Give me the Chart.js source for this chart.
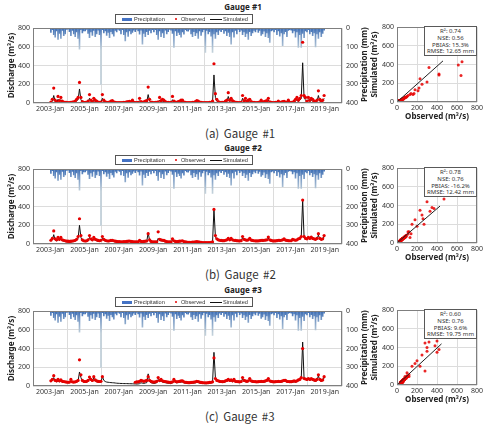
<!DOCTYPE html>
<html>
<head>
<meta charset="utf-8">
<script src="https://cdn.jsdelivr.net/npm/chart.js@4.4.1/dist/chart.umd.min.js"></script>
<style>
body{margin:0;background:#fff;width:487px;height:428px;position:relative;overflow:hidden;font-family:"Noto Sans",sans-serif;color:#333}
.abs{position:absolute}
.gTitle{left:193px;width:100px;text-align:center;font-size:8px;font-weight:bold;color:#222;line-height:10px}
.legend{left:115px;width:136px;height:8px;border:1px solid #555;font-family:"Liberation Sans",sans-serif;font-size:5.6px;line-height:8px;color:#333}
.legend span{position:absolute;white-space:nowrap}
.caption{left:205px;font-family:"Noto Sans CJK KR","Noto Sans",sans-serif;font-size:11.5px;color:#333;word-spacing:2px;line-height:16px}
.stats{left:424px;width:51px;height:27px;border:1px solid #595959;background:#fff;font-size:6px;line-height:6.8px;text-align:center;color:#333;padding-top:1px}
canvas{position:absolute}
</style>
</head>
<body>
<script>
// ================= DATA =================
const yearLabels = ["2003-Jan","2005-Jan","2007-Jan","2009-Jan","2011-Jan","2013-Jan","2015-Jan","2017-Jan","2019-Jan"];

// monthly precipitation (mm), 2003-01 .. 2018-12
const precip = [
  22,8,35,48,15,60,28,55,12,40,30,6,
  5,18,40,12,30,45,20,55,112,8,25,14,
  15,6,28,50,20,38,12,45,30,10,34,300,
  8,25,14,38,22,50,18,30,42,12,20,6,
  12,30,8,35,68,20,44,15,30,22,10,18,
  6,15,32,10,85,28,45,18,35,12,25,8,
  20,8,35,60,14,45,25,50,10,30,18,6,
  10,28,103,15,40,22,35,48,20,32,8,14,
  16,6,30,45,18,40,25,55,15,38,20,8,
  130,12,30,18,42,130,30,55,20,35,10,18,
  8,28,15,40,22,45,85,20,48,12,30,6,
  18,10,34,20,45,28,60,18,40,25,12,20,
  6,22,12,38,30,16,45,25,50,76,15,10,
  20,8,35,15,42,25,94,30,18,45,12,8,
  10,25,14,48,20,103,35,103,28,50,15,20,
  8,30,18,40,25,100,30,55,20,45,28,10
];

// Gauge #1 discharge (m3/s)
const obs1 = [
  10,40,160,30,15,70,25,60,20,10,8,6,
  5,5,8,10,12,20,40,60,220,60,15,8,
  6,8,20,90,30,15,50,30,20,10,8,10,
  90,30,12,8,6,10,20,25,12,8,5,5,
  4,4,5,6,8,12,15,18,10,30,8,5,
  5,6,50,15,8,12,20,25,170,40,10,6,
  5,6,8,12,60,25,40,30,15,8,6,5,
  8,70,20,10,8,15,20,30,30,10,6,5,
  4,4,5,6,8,15,25,20,10,6,5,4,
  4,4,5,6,8,20,420,100,40,15,8,6,
  6,8,20,30,110,30,50,25,15,8,6,5,
  5,6,80,25,50,20,30,40,15,8,6,5,
  5,6,10,30,10,15,20,25,50,12,6,5,
  5,6,8,20,8,10,15,18,10,8,30,6,
  6,8,20,40,60,30,50,80,650,80,60,20,
  60,30,50,40,20,15,30,130,40,20,30,80
];
const sim1 = [
  3,20,80,15,6,40,12,35,10,4,3,2,
  2,2,3,5,6,10,25,35,150,35,8,4,
  3,4,10,50,15,8,30,15,10,5,4,5,
  50,15,6,4,3,5,10,12,6,4,3,2,
  2,2,2,3,4,6,8,10,5,15,4,2,
  2,3,25,8,4,6,10,12,90,20,5,3,
  2,3,4,6,30,12,20,15,8,4,3,2,
  4,35,10,5,4,8,10,15,15,5,3,2,
  2,2,2,3,4,8,12,10,5,3,2,2,
  2,2,2,3,4,10,300,60,20,8,4,3,
  3,4,10,15,70,15,30,12,8,4,3,2,
  2,3,50,12,30,10,15,20,8,4,3,2,
  2,3,5,15,5,8,10,12,30,6,3,2,
  2,3,4,10,4,5,8,10,5,4,20,3,
  3,4,10,20,35,15,30,50,430,50,35,10,
  35,15,30,20,10,8,15,80,20,10,15,50
];

// Gauge #2
const obs2 = [
  40,60,140,55,45,70,50,70,45,40,35,30,
  30,28,30,32,35,40,50,80,270,90,45,35,
  32,35,45,90,55,45,70,50,45,38,35,40,
  80,50,40,35,32,35,38,40,35,30,28,26,
  25,24,24,25,26,28,30,32,28,26,24,22,
  22,22,40,28,25,28,30,32,110,45,28,24,
  22,22,24,130,50,45,40,38,30,26,24,22,
  22,55,35,28,25,28,30,32,35,26,22,20,
  18,18,18,20,20,22,25,24,20,18,16,15,
  14,14,15,16,18,22,370,90,55,45,40,38,
  36,36,40,45,60,45,60,45,40,38,36,34,
  34,36,80,50,45,40,45,60,42,38,35,34,
  33,34,36,40,38,40,42,45,75,45,38,34,
  33,34,36,40,38,40,45,55,42,38,36,35,
  35,50,45,40,45,55,60,80,470,80,60,55,
  70,60,75,60,55,50,60,110,60,50,55,90
];
const sim2 = [
  30,45,100,40,32,50,38,55,35,30,26,24,
  22,20,22,24,26,30,40,60,200,70,35,28,
  25,26,35,70,42,35,55,40,35,30,28,32,
  60,40,32,28,25,26,30,30,26,24,22,20,
  19,18,18,19,20,22,24,26,22,20,18,17,
  17,17,30,22,20,22,24,26,120,40,22,18,
  17,17,18,60,35,35,32,28,24,20,18,17,
  17,45,28,22,20,22,24,26,28,20,17,15,
  14,14,14,15,16,18,20,19,16,14,13,12,
  11,11,12,13,15,18,370,80,45,38,34,32,
  30,30,34,38,50,38,50,38,34,32,30,28,
  28,30,70,42,38,34,38,50,36,32,30,28,
  27,28,30,34,32,34,36,38,65,38,32,28,
  27,28,30,34,32,34,38,48,36,32,30,29,
  29,42,38,34,38,48,52,70,470,70,52,48,
  60,52,65,52,48,44,52,95,52,44,48,80
];

// Gauge #3 (observed missing 2006-02 .. 2007-11)
const obs3 = [
  55,70,110,60,55,70,55,65,50,48,45,42,
  40,42,70,45,42,45,50,60,280,120,60,50,
  48,50,60,95,70,60,100,65,55,50,48,50,
  100,null,null,null,null,null,null,null,null,null,null,null,
  null,null,null,null,null,null,null,null,null,null,null,40,
  45,45,50,60,55,50,55,60,100,60,50,45,
  42,45,50,90,60,70,55,50,48,45,42,40,
  40,45,70,50,45,48,50,55,55,45,40,38,
  36,36,38,40,42,45,50,48,42,38,36,35,
  34,34,36,38,40,45,300,80,60,55,50,48,
  46,48,55,60,70,60,65,55,70,50,48,46,
  45,48,90,60,55,50,55,80,55,50,48,46,
  45,46,48,50,48,50,55,60,80,55,50,46,
  45,46,48,50,48,50,55,60,60,50,48,46,
  46,50,55,50,55,65,70,90,400,80,75,70,
  80,70,80,70,65,60,70,120,70,60,65,100
];
const sim3 = [
  45,55,90,50,45,55,45,55,42,40,38,36,
  34,35,55,38,36,38,42,50,150,90,50,42,
  40,42,50,80,60,50,85,55,45,42,40,42,
  100,60,48,42,40,38,36,35,34,32,30,29,
  28,27,27,26,26,26,25,25,24,24,23,22,
  22,22,25,35,30,28,32,35,130,50,35,30,
  28,30,35,70,45,55,42,38,35,32,30,28,
  28,32,55,38,34,36,38,42,42,34,30,28,
  27,27,28,30,32,34,38,36,32,29,28,27,
  26,26,28,30,32,36,360,90,55,48,42,40,
  38,40,45,50,60,50,55,45,60,42,40,38,
  37,40,80,50,45,42,45,70,45,42,40,38,
  37,38,40,42,40,42,45,50,70,45,42,38,
  37,38,40,42,40,42,45,50,50,42,40,38,
  38,42,45,42,45,55,60,80,470,75,70,60,
  70,60,70,60,55,50,60,110,60,50,55,90
];

// extra scatter points [obs, sim]
const extra1 = [[613,397],[640,284],[420,290],[320,370],[300,213],[230,250],[250,190],[180,130],[140,90],[210,120]];
const extra2 = [[300,440],[350,380],[250,300],[230,350],[180,250],[150,200],[200,180],[120,120],[260,260],[330,340]];
const extra3 = [[320,460],[380,420],[400,350],[300,400],[280,450],[250,320],[200,260],[180,230],[150,200],[230,200],[420,380]];

// fitted line end points
const fit1 = [[0,0],[460,440]];
const fit2 = [[0,0],[430,395]];
const fit3 = [[0,0],[445,440]];

const stats1 = ["R²: 0.74","NSE: 0.56","PBIAS: 15.3%","RMSE: 12.65 mm"];
const stats2 = ["R²: 0.78","NSE: 0.76","PBIAS: -16.2%","RMSE: 12.42 mm"];
const stats3 = ["R²: 0.60","NSE: 0.76","PBIAS: 9.6%","RMSE: 19.75 mm"];

const rows = [
  {top:0,   title:"Gauge #1", caption:"(a) Gauge #1", obs:obs1, sim:sim1, extra:extra1, fit:fit1, stats:stats1},
  {top:141, title:"Gauge #2", caption:"(b) Gauge #2", obs:obs2, sim:sim2, extra:extra2, fit:fit2, stats:stats2},
  {top:283, title:"Gauge #3", caption:"(c) Gauge #3", obs:obs3, sim:sim3, extra:extra3, fit:fit3, stats:stats3}
];

// ================= HELPERS =================
Chart.defaults.font.family = "'Noto Sans', sans-serif";
Chart.defaults.color = "#333";
Chart.defaults.animation = false;

const boxBorder = {
  id:"boxBorder",
  afterDraw(chart){
    const a = chart.chartArea, c = chart.ctx;
    c.save();
    c.strokeStyle = "#7f7f7f";
    c.lineWidth = 1;
    c.strokeRect(Math.round(a.left)+0.5, Math.round(a.top)+0.5, Math.round(a.right-a.left)-1, Math.round(a.bottom-a.top)-1);
    c.restore();
  }
};

function precipColor(ctx){
  const a = ctx.chart.chartArea;
  if(!a) return "#8fa9c4";
  const g = ctx.chart.ctx.createLinearGradient(0, a.top, 0, a.top+22);
  g.addColorStop(0, "#3a6cb4");
  g.addColorStop(0.35, "#7396c4");
  g.addColorStop(1, "#c0cfd9");
  return g;
}

function el(tag, cls, css, html){
  const e = document.createElement(tag);
  if(cls) e.className = cls;
  Object.assign(e.style, css || {});
  if(html != null) e.innerHTML = html;
  document.body.appendChild(e);
  return e;
}

function canvasAt(left, top, w, h){
  const c = document.createElement("canvas");
  c.width = w; c.height = h;
  c.style.left = left+"px"; c.style.top = top+"px";
  c.style.width = w+"px"; c.style.height = h+"px";
  document.body.appendChild(c);
  return c;
}

const tickFont = {size:7};
const gridCol = "#dcdcdc";

// ================= TIME SERIES =================
function drawSeries(r){
  const cv = canvasAt(0, r.top+20, 360, 95);
  new Chart(cv, {
    type:"line",
    data:{
      datasets:[
        {label:"Observed", data:r.obs.map((v,i)=>({x:i+0.5, y:v})), showLine:false,
         pointRadius:1.6, pointBorderWidth:0, pointBackgroundColor:"#e60000", yAxisID:"y"},
        {label:"Simulated", data:r.sim.map((v,i)=>({x:i+0.5, y:v})), borderColor:"#111",
         borderWidth:1, pointRadius:0, yAxisID:"y"},
        {type:"bar", label:"Precipitation", data:precip.map((v,i)=>({x:i+0.5, y:v})),
         backgroundColor:precipColor, barThickness:1, yAxisID:"y2"}
      ]
    },
    options:{
      responsive:false, devicePixelRatio:1,
      layout:{padding:{top:8, left:0, right:0, bottom:0}},
      plugins:{legend:{display:false}, tooltip:{enabled:false}},
      scales:{
        x:{type:"linear", min:0, max:192,
           ticks:{stepSize:24, autoSkip:false, maxRotation:0, font:tickFont, padding:2,
                  callback:v=>yearLabels[v/24] || ""},
           grid:{color:gridCol, drawTicks:false}, border:{display:false},
           afterFit:s=>{s.height=12;}},
        y:{position:"left", min:0, max:800,
           ticks:{stepSize:200, font:tickFont, padding:3},
           grid:{color:gridCol, drawTicks:false}, border:{display:false},
           title:{display:true, text:"Discharge (m³/s)", font:{size:8, weight:"bold"}, color:"#222", padding:{top:7,bottom:0}},
           afterFit:s=>{s.width=33;}},
        y2:{position:"right", reverse:true, min:0, max:400,
            ticks:{stepSize:100, font:tickFont, padding:4},
            grid:{drawOnChartArea:false, drawTicks:false}, border:{display:false},
            afterFit:s=>{s.width=18;}}
      }
    },
    plugins:[boxBorder]
  });
}

// ================= SCATTER =================
function drawScatter(r){
  const pts = [];
  r.obs.forEach((o,i)=>{ if(o != null) pts.push({x:o, y:r.sim[i]}); });
  r.extra.forEach(p=>pts.push({x:p[0], y:p[1]}));

  const cv = canvasAt(360, r.top+20, 127, 105);
  new Chart(cv, {
    type:"scatter",
    data:{
      datasets:[
        {data:r.fit.map(p=>({x:p[0], y:p[1]})), showLine:true, borderColor:"#222",
         borderWidth:1, pointRadius:0},
        {data:pts, pointRadius:1.5, pointBorderWidth:0, pointBackgroundColor:"rgba(230,0,0,0.85)"}
      ]
    },
    options:{
      responsive:false, devicePixelRatio:1,
      layout:{padding:{top:6, right:10, left:0, bottom:0}},
      plugins:{legend:{display:false}, tooltip:{enabled:false}},
      scales:{
        x:{min:0, max:800, ticks:{stepSize:200, font:tickFont, padding:2},
           grid:{color:gridCol, drawTicks:false}, border:{display:false},
           title:{display:true, text:"Observed (m³/s)", font:{size:8, weight:"bold"}, color:"#222", padding:{top:0,bottom:3}},
           afterFit:s=>{s.height=23;}},
        y:{min:0, max:800, ticks:{stepSize:200, font:tickFont, padding:3},
           grid:{color:gridCol, drawTicks:false}, border:{display:false},
           title:{display:true, text:["Precipitation (mm)","Simulated (m³/s)"], font:{size:8, weight:"bold"}, color:"#222", padding:{top:0,bottom:0}},
           afterFit:s=>{s.width=37;}}
      }
    },
    plugins:[boxBorder]
  });

  el("div", "abs stats", {top:(r.top+26)+"px"}, r.stats.join("<br>"));
}

// ================= TITLES / LEGEND =================
function drawLabels(r){
  el("div", "abs gTitle", {top:(r.top+2)+"px"}, r.title);
  const lg = el("div", "abs legend", {top:(r.top+14)+"px"});
  lg.innerHTML =
    '<span style="left:6px;top:2.5px;width:10px;height:3px;background:#4472c4"></span>' +
    '<span style="left:18px;top:0">Precipitation</span>' +
    '<span style="left:59px;top:3px;width:2px;height:2px;border-radius:1px;background:#e60000"></span>' +
    '<span style="left:65px;top:0">Observed</span>' +
    '<span style="left:94px;top:3.5px;width:12px;height:1px;background:#111"></span>' +
    '<span style="left:107px;top:0">Simulated</span>';
  el("div", "abs caption", {top:(r.top+125)+"px"}, r.caption);
}

rows.forEach(r=>{
  drawSeries(r);
  drawScatter(r);
  drawLabels(r);
});
</script>
</body>
</html>
